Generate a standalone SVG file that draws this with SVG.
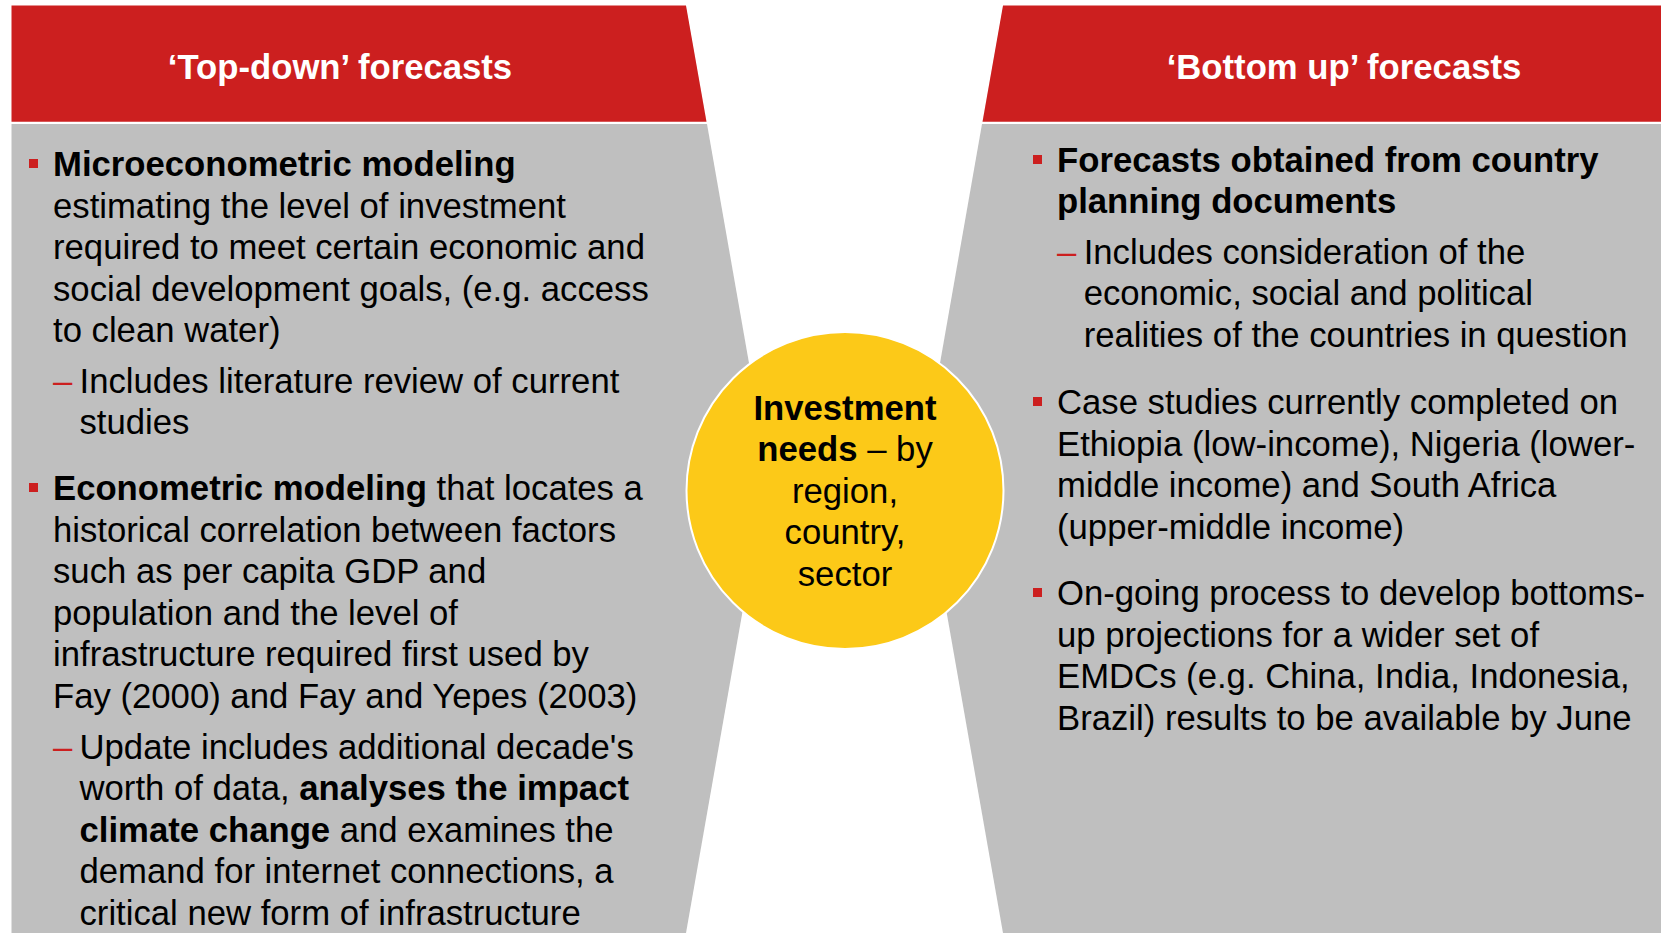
<svg xmlns="http://www.w3.org/2000/svg" width="1661" height="933" viewBox="0 0 1661 933">
<style>
.hdr{fill:#CC1F1F}
.pnl{fill:#BFBFBF}
.ht{font-family:"Liberation Sans",Arial,sans-serif;font-size:34.7px;font-weight:bold;fill:#FFFFFF;text-anchor:middle}
.t{font-family:"Liberation Sans",Arial,sans-serif;font-size:34.7px;fill:#000000}
.b{font-weight:bold}
.d{font-family:"Liberation Sans",Arial,sans-serif;font-size:34.7px;fill:#CC1F1F}
.sq{fill:#CC1F1F}
.c{font-family:"Liberation Sans",Arial,sans-serif;font-size:34.7px;fill:#000000;text-anchor:middle}
</style>
<rect width="1661" height="933" fill="#FFFFFF"/>
<g id="left-panel">
<polygon class="hdr" points="11.5,5.5 686,5.5 706.5,121.8 11.5,121.8"/>
<polygon class="pnl" points="11.5,124 707,124 767.6,469 686,933 11.5,933"/>
<text class="ht" x="340" y="79">‘Top-down’ forecasts</text>
<rect class="sq" x="29" y="159" width="9" height="9"/>
<text class="t" x="53" y="176"><tspan class="b">Microeconometric modeling</tspan></text>
<text class="t" x="53" y="217.6">estimating the level of investment</text>
<text class="t" x="53" y="259.2">required to meet certain economic and</text>
<text class="t" x="53" y="300.8">social development goals, (e.g. access</text>
<text class="t" x="53" y="342.4">to clean water)</text>
<text class="d" x="53" y="392.5">–</text>
<text class="t" x="79.5" y="392.5">Includes literature review of current</text>
<text class="t" x="79.5" y="434.1">studies</text>
<rect class="sq" x="29" y="483" width="9" height="9"/>
<text class="t" x="53" y="500"><tspan class="b">Econometric modeling</tspan> that locates a</text>
<text class="t" x="53" y="541.6">historical correlation between factors</text>
<text class="t" x="53" y="583.2">such as per capita GDP and</text>
<text class="t" x="53" y="624.8">population and the level of</text>
<text class="t" x="53" y="666.4">infrastructure required first used by</text>
<text class="t" x="53" y="708">Fay (2000) and Fay and Yepes (2003)</text>
<text class="d" x="53" y="758.5">–</text>
<text class="t" x="79.5" y="758.5">Update includes additional decade's</text>
<text class="t" x="79.5" y="800.1">worth of data, <tspan class="b">analyses the impact</tspan></text>
<text class="t" x="79.5" y="841.7"><tspan class="b">climate change</tspan> and examines the</text>
<text class="t" x="79.5" y="883.3">demand for internet connections, a</text>
<text class="t" x="79.5" y="924.9">critical new form of infrastructure</text>
</g>
<g id="right-panel">
<polygon class="hdr" points="1003,5.5 1661,5.5 1661,121.8 982.5,121.8"/>
<polygon class="pnl" points="982,124 1661,124 1661,933 1003,933 921.4,469"/>
<text class="ht" x="1344" y="79">‘Bottom up’ forecasts</text>
<rect class="sq" x="1033" y="155" width="9" height="9"/>
<text class="t b" x="1057" y="171.6">Forecasts obtained from country</text>
<text class="t b" x="1057" y="213.2">planning documents</text>
<text class="d" x="1057" y="263.8">–</text>
<text class="t" x="1083.7" y="263.8">Includes consideration of the</text>
<text class="t" x="1083.7" y="305.4">economic, social and political</text>
<text class="t" x="1083.7" y="347">realities of the countries in question</text>
<rect class="sq" x="1033" y="397" width="9" height="9"/>
<text class="t" x="1057" y="414.2">Case studies currently completed on</text>
<text class="t" x="1057" y="455.8">Ethiopia (low-income), Nigeria (lower-</text>
<text class="t" x="1057" y="497.4">middle income) and South Africa</text>
<text class="t" x="1057" y="539">(upper-middle income)</text>
<rect class="sq" x="1033" y="588" width="9" height="9"/>
<text class="t" x="1057" y="605">On-going process to develop bottoms-</text>
<text class="t" x="1057" y="646.6">up projections for a wider set of</text>
<text class="t" x="1057" y="688.2">EMDCs (e.g. China, India, Indonesia,</text>
<text class="t" x="1057" y="729.8">Brazil) results to be available by June</text>
</g>
<g id="investment-needs">
<circle cx="845" cy="490.5" r="158.5" fill="#FCC918" stroke="#FFFFFF" stroke-width="2"/>
<text class="c b" x="845" y="419.5">Investment</text>
<text class="c" x="845" y="461.1"><tspan class="b">needs</tspan> – by</text>
<text class="c" x="845" y="502.7">region,</text>
<text class="c" x="845" y="544.3">country,</text>
<text class="c" x="845" y="585.9">sector</text>
</g>
</svg>
